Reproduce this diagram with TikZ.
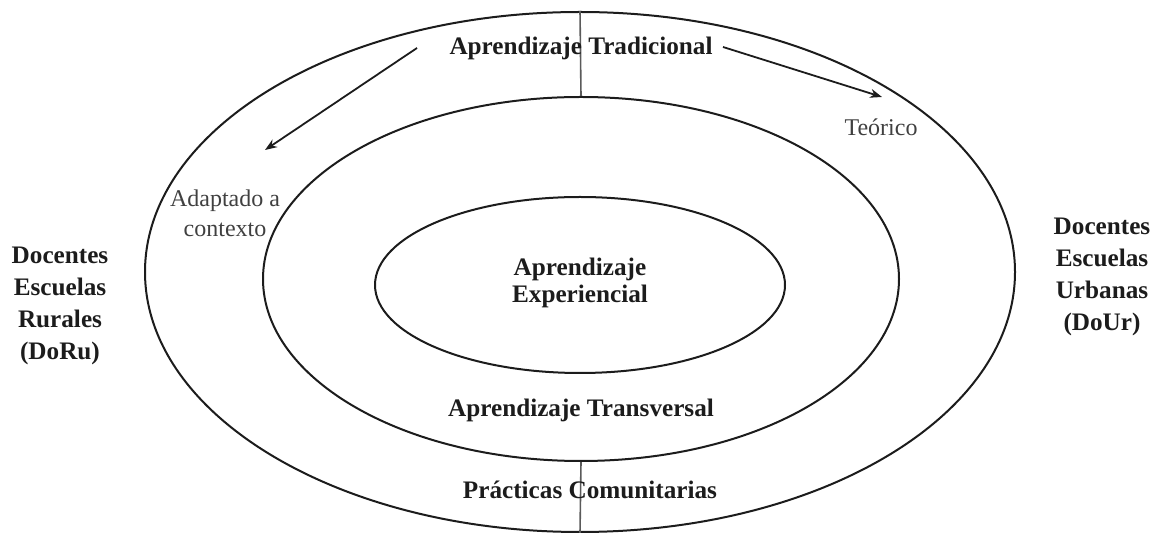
\documentclass[tikz,border=0pt]{standalone}
\usepackage{fontspec}
\setmainfont{Liberation Serif}
\usetikzlibrary{shapes.geometric, arrows.meta, positioning}
\definecolor{inkdark}{RGB}{28, 28, 28}
\definecolor{inkgray}{RGB}{90, 90, 90}
\definecolor{textgray}{RGB}{64, 64, 64}
\tikzset{
  ring/.style 2 args={ellipse, draw=inkdark, line width=1pt, inner sep=0pt, minimum width=#1, minimum height=#2},
  boldlabel/.style={font=\fontsize{12.6}{#1}\selectfont\bfseries, text=inkdark, align=center, inner sep=0pt},
  plainlabel/.style={font=\fontsize{12}{#1}\selectfont, text=textgray, align=center, inner sep=0pt},
  divider/.style={draw=inkgray, line width=0.8pt},
  flow/.style={draw=inkdark, line width=0.9pt, -{Stealth[length=6pt, width=4.5pt]}},
}
\begin{document}
\begin{tikzpicture}[x=0.5pt, y=-0.5pt]
\useasboundingbox (0,0) rectangle (1157,533);

% Rings
\node[ring={435pt}{260pt}] (outer) at (580,272) {};
\node[ring={318pt}{182pt}] (middle) at (581,279) {};
\node[ring={205pt}{88pt}] (inner) at (580,285) {};

% Dividers
\draw[divider] (outer.north) -- (middle.north);
\draw[divider] (middle.south) -- (outer.south);

% Ring labels
\node[boldlabel=14pt] (trad) at (581,48) {Aprendizaje Tradicional};
\node[boldlabel=13.5pt] (exp) at (580,283) {Aprendizaje\\Experiencial};
\node[boldlabel=14pt] (trans) at (581,410) {Aprendizaje Transversal};
\node[boldlabel=14pt] (com) at (590,490) {Prácticas Comunitarias};

% Side labels
\node[boldlabel=16pt] (doru) at (60,306) {Docentes\\Escuelas\\Rurales\\(DoRu)};
\node[boldlabel=16pt] (dour) at (1102,277) {Docentes\\Escuelas\\Urbanas\\(DoUr)};

% Arrow labels
\node[plainlabel=15pt] (adapt) at (225,213) {Adaptado a\\contexto};
\node[plainlabel=14pt] (teor) at (881,127) {Teórico};

% Arrows
\coordinate (leftstart) at (417,48);
\coordinate (leftend) at (265,150);
\coordinate (rightstart) at (723,47);
\coordinate (rightend) at (882,97);
\draw[flow] (leftstart) -- (leftend);
\draw[flow] (rightstart) -- (rightend);
\end{tikzpicture}
\end{document}
